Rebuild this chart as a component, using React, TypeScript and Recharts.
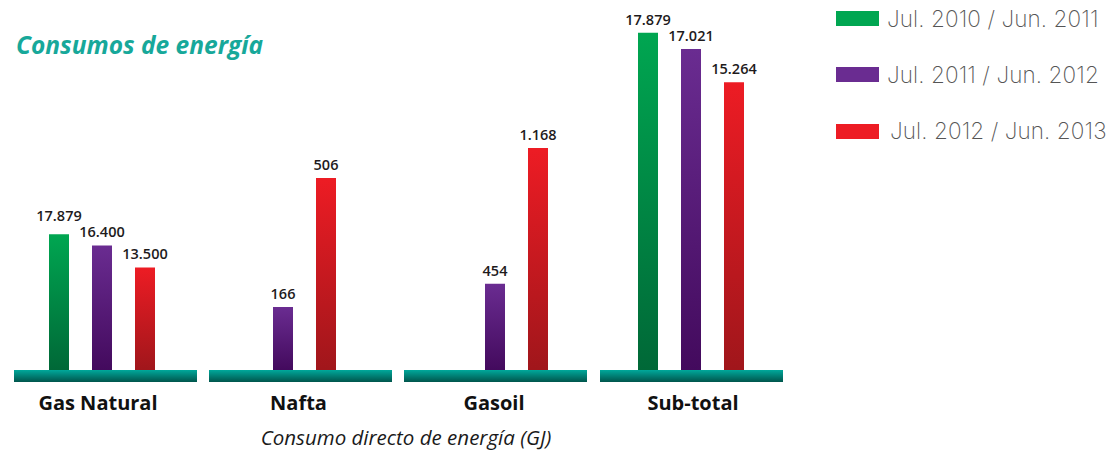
import { BarChart, Bar, XAxis, YAxis, LabelList } from 'recharts';

const categories = ['Gas Natural', 'Nafta', 'Gasoil', 'Sub-total'];
const periods = ['Jul. 2010 / Jun. 2011', 'Jul. 2011 / Jun. 2012', 'Jul. 2012 / Jun. 2013'];
const jul2010 = [17879, null, null, 17879];
const jul2011 = [16400, 166, 454, 17021];
const jul2012 = [13500, 506, 1168, 15264];

// the original draws every group on its own scale: value that reaches the top of the chart
const groupScaleTop = [48700, 975, 1947, 19620];

const series = [
  { key: 'p1', name: periods[0], values: jul2010, light: '#00a651', dark: '#006837' },
  { key: 'p2', name: periods[1], values: jul2011, light: '#6a2c91', dark: '#430a5d' },
  { key: 'p3', name: periods[2], values: jul2012, light: '#ed1c24', dark: '#a0161b' },
];

// layout of each small chart
const groupLeft = [14, 209, 404, 600];
const groupPadRight = [7, 35, 1, 1];
const labelDx = [-4, 15.5, -1, 2];

const PLOT_H = 376;
const AXIS_H = 50;
const BASE = 370; // where value 0 sits; the teal band covers 370-382

const fmt = (v: any) =>
  v == null ? '' : String(v).replace(/\B(?=(\d{3})+(?!\d))/g, '.');

function Group({ index }: { index: number }) {
  const row: any = { name: categories[index] };
  series.forEach(s => (row[s.key] = s.values[index]));
  const top = groupScaleTop[index];
  const bottom = -top * (PLOT_H - BASE) / BASE;

  return (
    <div style={{ position: 'absolute', left: groupLeft[index], top: 0 }}>
      <BarChart
        width={183}
        height={PLOT_H + AXIS_H}
        data={[row]}
        margin={{ top: 0, right: 0, bottom: 0, left: 0 }}
        barGap={23}
      >
        <defs>
          {series.map(s => (
            <linearGradient key={s.key} id={`g${index}-${s.key}`} x1="0" y1="0" x2="0" y2="1">
              <stop offset="0%" stopColor={s.light} />
              <stop offset="100%" stopColor={s.dark} />
            </linearGradient>
          ))}
          <linearGradient id={`band${index}`} gradientUnits="userSpaceOnUse" x1="0" y1={BASE} x2="0" y2={BASE + 12}>
            <stop offset="0%" stopColor="#00a89b" />
            <stop offset="100%" stopColor="#00554c" />
          </linearGradient>
        </defs>
        <XAxis
          dataKey="name"
          height={AXIS_H}
          padding={{ left: 0, right: groupPadRight[index] }}
          axisLine={{ stroke: `url(#band${index})`, strokeWidth: 12 }}
          tickLine={false}
          tickMargin={14}
          tick={{ fill: '#111', fontSize: 20, fontWeight: 700, fontFamily: 'Open Sans', dx: labelDx[index] }}
        />
        <YAxis hide type="number" domain={[bottom, top]} allowDataOverflow />
        {series.map(s => (
          <Bar key={s.key} dataKey={s.key} name={s.name} barSize={20} fill={`url(#g${index}-${s.key})`} isAnimationActive={false}>
            <LabelList
              dataKey={s.key}
              position="top"
              offset={index === 0 && s.key === 'p1' ? 13 : 8}
              formatter={fmt}
              style={{ fill: '#1e1b1c', fontSize: 14.5, fontWeight: 560, fontFamily: 'Open Sans' }}
            />
          </Bar>
        ))}
      </BarChart>
    </div>
  );
}

export default function App() {
  return (
    <div style={{ position: 'absolute', left: 0, top: 0, width: 1117, height: 455, background: '#fff', fontFamily: 'Open Sans', overflow: 'hidden' }}>
      <div style={{ position: 'absolute', left: 16, top: 33, fontSize: 24.5, lineHeight: '24px', fontWeight: 700, fontStyle: 'italic', color: '#17a89a', whiteSpace: 'nowrap' }}>
        Consumos de energía
      </div>

      {categories.map((c, i) => (
        <Group key={c} index={i} />
      ))}

      <div style={{ position: 'absolute', left: 0, width: 812, top: 427, textAlign: 'center', fontSize: 20.5, lineHeight: '20px', fontStyle: 'italic', color: '#1a1a1a', whiteSpace: 'nowrap' }}>
        Consumo directo de energía (GJ)
      </div>

      {series.map((s, i) => (
        <div key={s.key} style={{ position: 'absolute', left: 836, top: 11 + i * 56.3, height: 15, whiteSpace: 'nowrap' }}>
          <div style={{ position: 'absolute', left: 0, top: 0, width: 43, height: 15, background: s.light }} />
          <div style={{ position: 'absolute', left: i === 2 ? 54 : 51, top: -3.5, fontFamily: 'Inter', fontWeight: 200, fontSize: 22.5, lineHeight: '22px', color: '#555', letterSpacing: 0.1 }}>
            {s.name}
          </div>
        </div>
      ))}
    </div>
  );
}
